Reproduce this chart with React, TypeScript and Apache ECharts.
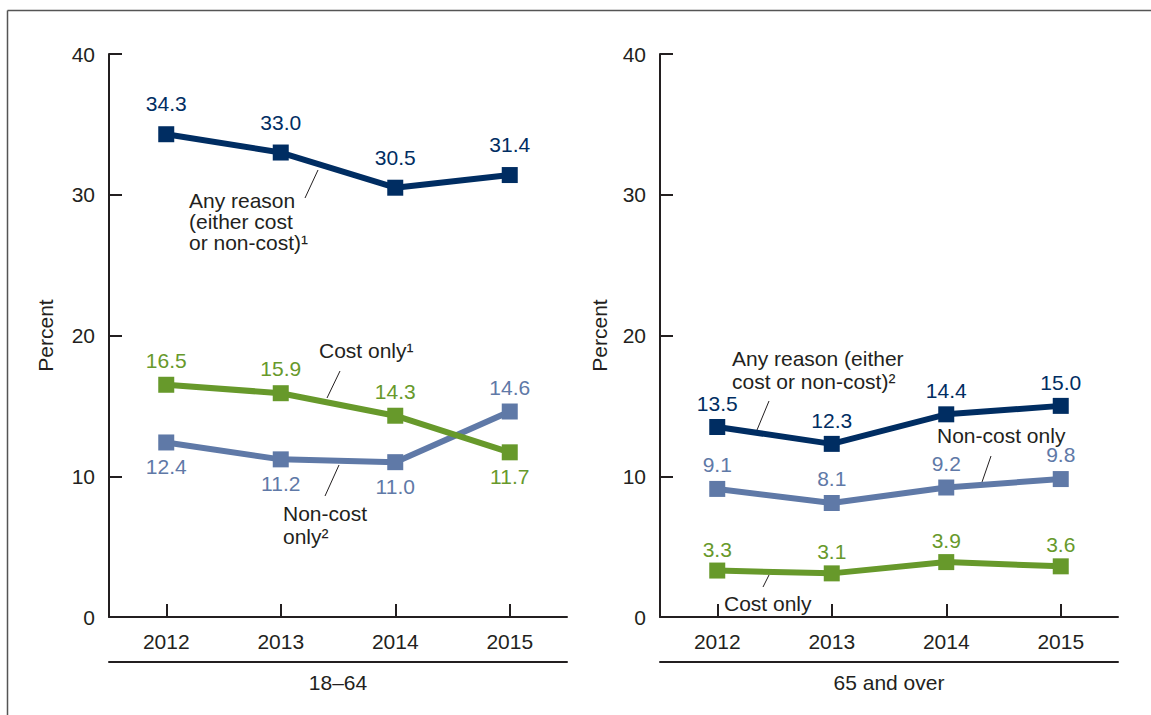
import React, { useEffect, useRef } from "react";
import * as echarts from "echarts";

const years = ["2012", "2013", "2014", "2015"];
const yMin = 0;
const yMax = 40;
const yInterval = 10;

// Ages 18–64
const anyReason1864 = [34.3, 33.0, 30.5, 31.4];
const costOnly1864 = [16.5, 15.9, 14.3, 11.7];
const nonCost1864 = [12.4, 11.2, 11.0, 14.6];
const anyPos1864 = ["top", "top", "top", "top"];
const costPos1864 = ["top", "top", "top", "bottom"];
const nonCostPos1864 = ["bottom", "bottom", "bottom", "top"];

// Ages 65 and over
const anyReason65 = [13.5, 12.3, 14.4, 15.0];
const nonCost65 = [9.1, 8.1, 9.2, 9.8];
const costOnly65 = [3.3, 3.1, 3.9, 3.6];
const allTop = ["top", "top", "top", "top"];

const groupNames = ["18–64", "65 and over"];

const NAVY = "#002d62";
const STEEL = "#5f79a7";
const GREEN = "#67992b";
const INK = "#231f20";
const FONT = "'Liberation Sans', Arial, Helvetica, sans-serif";
const FS = 21;

function mkSeries(data: number[], pos: string[], color: string, xi: number, dist: number, z: number) {
  return {
    type: "line",
    xAxisIndex: xi,
    yAxisIndex: xi,
    z,
    symbol: "rect",
    symbolSize: 16,
    lineStyle: { color, width: 6 },
    itemStyle: { color },
    data: data.map((v, i) => ({
      value: v,
      label: { position: pos[i] },
    })),
    label: {
      show: true,
      color,
      fontSize: FS,
      fontFamily: FONT,
      distance: dist,
      formatter: (p: any) => Number(p.value).toFixed(1),
    },
  };
}

function annText(x: number, y: number, text: string, lh: number) {
  return {
    type: "text",
    x,
    y,
    style: { text, fill: INK, font: `${FS}px ${FONT}`, lineHeight: lh, textVerticalAlign: "top" },
  };
}
function leader(x1: number, y1: number, x2: number, y2: number) {
  return { type: "line", shape: { x1, y1, x2, y2 }, style: { stroke: INK, lineWidth: 1 } };
}

export default function App() {
  const ref = useRef<HTMLDivElement>(null);
  useEffect(() => {
    if (!ref.current) return;
    const chart = echarts.init(ref.current, null, { renderer: "svg" });
    const axisLine = { show: true, lineStyle: { color: INK, width: 2 } };
    const mkX = (gi: number) => ({
      type: "category",
      gridIndex: gi,
      data: years,
      boundaryGap: true,
      axisLine,
      axisTick: { show: true, inside: true, length: 13, alignWithLabel: true, lineStyle: { color: INK, width: 2 } },
      axisLabel: { color: INK, fontSize: FS, fontFamily: FONT, margin: 14 },
    });
    const mkGroupX = (gi: number) => ({
      type: "category",
      gridIndex: gi,
      data: years,
      position: "bottom",
      offset: 45,
      axisLine,
      axisTick: { show: false },
      axisLabel: { show: false },
      name: groupNames[gi],
      nameLocation: "middle",
      nameGap: 10,
      nameTextStyle: { color: INK, fontSize: FS, fontFamily: FONT, verticalAlign: "top" },
    });
    const mkY = (gi: number, gap: number) => ({
      type: "value",
      gridIndex: gi,
      min: yMin,
      max: yMax,
      interval: yInterval,
      axisLine,
      axisTick: { show: true, inside: true, length: 13, lineStyle: { color: INK, width: 2 } },
      axisLabel: { color: INK, fontSize: FS, fontFamily: FONT, margin: 14 },
      splitLine: { show: false },
      name: "Percent",
      nameLocation: "middle",
      nameGap: gap,
      nameRotate: 90,
      nameTextStyle: { color: INK, fontSize: FS, fontFamily: FONT },
    });
    chart.setOption({
      animation: false,
      backgroundColor: "#ffffff",
      grid: [
        { left: 109, top: 54, width: 458, height: 563 },
        { left: 660, top: 54, width: 458, height: 563 },
      ],
      xAxis: [mkX(0), mkX(1), mkGroupX(0), mkGroupX(1)],
      yAxis: [mkY(0, 53), mkY(1, 50)],
      series: [
        mkSeries(nonCost1864, nonCostPos1864, STEEL, 0, 6, 2),
        mkSeries(costOnly1864, costPos1864, GREEN, 0, 6, 3),
        mkSeries(anyReason1864, anyPos1864, NAVY, 0, 12, 4),
        mkSeries(costOnly65, allTop, GREEN, 1, 3, 2),
        mkSeries(nonCost65, allTop, STEEL, 1, 6, 3),
        mkSeries(anyReason65, allTop, NAVY, 1, 5, 4),
      ],
      graphic: [
        { type: "line", shape: { x1: 7.5, y1: 10.5, x2: 1151, y2: 10.5 }, style: { stroke: "#555", lineWidth: 1.5 } },
        { type: "line", shape: { x1: 7.5, y1: 10.5, x2: 7.5, y2: 715 }, style: { stroke: "#555", lineWidth: 1.5 } },
        annText(189, 190, "Any reason\n(either cost\nor non-cost)¹", 21),
        leader(305, 198, 318, 170),
        annText(319, 339, "Cost only¹", 22),
        leader(327, 398, 340, 371),
        annText(283, 502, "Non-cost\nonly²", 23),
        leader(325, 496, 339, 465),
        annText(732, 347, "Any reason (either\ncost or non-cost)²", 23),
        leader(757, 430, 769, 401),
        annText(937, 424, "Non-cost only", 22),
        leader(981, 485, 991, 456),
        annText(724, 592, "Cost only", 22),
        leader(763, 587, 769, 575),
      ],
    });
    return () => chart.dispose();
  }, []);
  return (
    <div
      ref={ref}
      style={{ position: "absolute", left: 0, top: 0, width: 1151, height: 715 }}
    />
  );
}
